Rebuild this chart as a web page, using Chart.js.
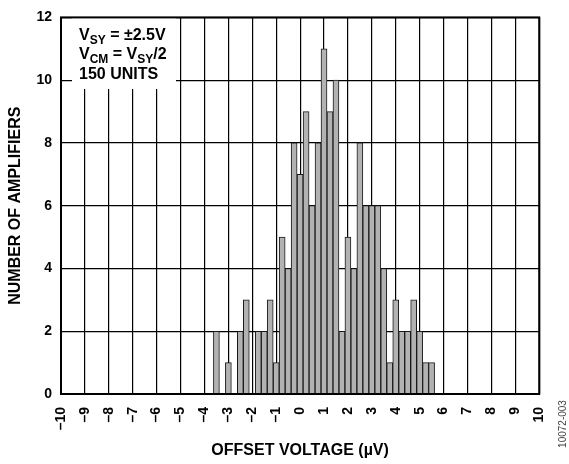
<!DOCTYPE html>
<html><head><meta charset="utf-8">
<script src="https://cdn.jsdelivr.net/npm/chart.js@4/dist/chart.umd.min.js"></script>
<style>html,body{margin:0;padding:0;background:#fff;}#wrap{width:569px;height:464px;position:relative;}</style>
</head><body><div id="wrap"><canvas id="c" width="569" height="464"></canvas></div>
<script>
// Histogram bins (offset voltage, µV) and counts (number of amplifiers)
const binCenters = [-3.5,-3.25,-3,-2.75,-2.5,-2.25,-2,-1.75,-1.5,-1.25,-1,-0.75,-0.5,-0.25,0,0.25,0.5,0.75,1,1.25,1.5,1.75,2,2.25,2.5,2.75,3,3.25,3.5,3.75,4,4.25,4.5,4.75,5,5.25,5.5];
const counts     = [2,0,1,0,2,3,0,2,2,3,1,5,4,8,7,9,6,8,11,9,10,2,5,4,8,6,6,6,4,1,3,2,2,3,2,1,1];
const xTickValues = [-10,-9,-8,-7,-6,-5,-4,-3,-2,-1,0,1,2,3,4,5,6,7,8,9,10];
const yTickValues = [0,2,4,6,8,10,12];
const xTitle = 'OFFSET VOLTAGE (µV)';
const yTitle = 'NUMBER OF AMPLIFIERS';
const figureId = '10072-003';
const noteLines = [
  [['V',0],['SY',1],[' = ±2.5V',0]],
  [['V',0],['CM',1],[' = V',0],['SY',1],['/2',0]],
  [['150 UNITS',0]]
];

const FONT = "'Liberation Sans', Arial, sans-serif";

const notePlugin = {
  id: 'note',
  beforeDatasetsDraw(chart) {
    const ctx = chart.ctx;
    ctx.save();
    ctx.fillStyle = '#fff';
    ctx.fillRect(72, 16, 104, 73);
    ctx.fillStyle = '#000';
    ctx.textBaseline = 'alphabetic';
    ctx.textAlign = 'left';
    const baselines = [39.5, 59, 78.5];
    noteLines.forEach((line, i) => {
      let x = 79;
      line.forEach(([txt, sub]) => {
        ctx.font = sub ? 'bold 12px ' + FONT : 'bold 16px ' + FONT;
        ctx.fillText(txt, x, baselines[i] + (sub ? 4 : 0));
        x += ctx.measureText(txt).width;
      });
    });
    ctx.restore();
  },
  afterDraw(chart) {
    const ctx = chart.ctx;
    const a = chart.chartArea;
    ctx.save();
    ctx.strokeStyle = '#000';
    ctx.lineWidth = 2;
    ctx.strokeRect(a.left, a.top, a.right - a.left, a.bottom - a.top);
    ctx.translate(563, 424);
    ctx.rotate(-Math.PI / 2);
    ctx.font = '10px ' + FONT;
    ctx.fillStyle = '#444';
    ctx.textAlign = 'center';
    ctx.textBaseline = 'middle';
    ctx.fillText(figureId, 0, 0);
    ctx.restore();
  }
};

new Chart(document.getElementById('c'), {
  type: 'bar',
  data: {
    datasets: [{
      data: binCenters.map((x, i) => ({x: x, y: counts[i]})),
      backgroundColor: '#b2b2b2',
      borderColor: '#1a1a1a',
      borderWidth: 1,
      barPercentage: 1,
      categoryPercentage: 1
    }]
  },
  options: {
    responsive: false,
    animation: false,
    events: [],
    layout: {padding: {top: 12, right: 28, left: 0, bottom: 0}},
    plugins: {legend: {display: false}, tooltip: {enabled: false}},
    scales: {
      x: {
        type: 'linear',
        min: -10, max: 10,
        offset: false,
        afterBuildTicks(s) { s.ticks = xTickValues.map(v => ({value: v})); },
        afterFit(s) { s.height = 70; },
        grid: {offset: false, color: '#000', lineWidth: 1.2, drawTicks: false},
        border: {display: false},
        ticks: {
          autoSkip: false, minRotation: 90, maxRotation: 90, padding: 13,
          color: '#000', font: {family: FONT, size: 14, weight: 'bold'},
          callback: v => v < 0 ? '\u2013' + Math.abs(v) : String(v)
        },
        title: {display: true, text: xTitle, color: '#000', padding: {top: 0, bottom: 4},
          font: {family: FONT, size: 16, weight: 'bold'}}
      },
      y: {
        min: 0, max: 12,
        afterBuildTicks(s) { s.ticks = yTickValues.map(v => ({value: v})); },
        afterFit(s) { s.width = 61; },
        grid: {color: '#000', lineWidth: 1.2, drawTicks: false},
        border: {display: false},
        ticks: {padding: 9, color: '#000', font: {family: FONT, size: 14, weight: 'bold'}},
        title: {display: true, text: yTitle, color: '#000', padding: {top: 6, bottom: 0},
          font: {family: FONT, size: 16, weight: 'bold'}}
      }
    }
  },
  plugins: [notePlugin]
});
</script></body></html>
